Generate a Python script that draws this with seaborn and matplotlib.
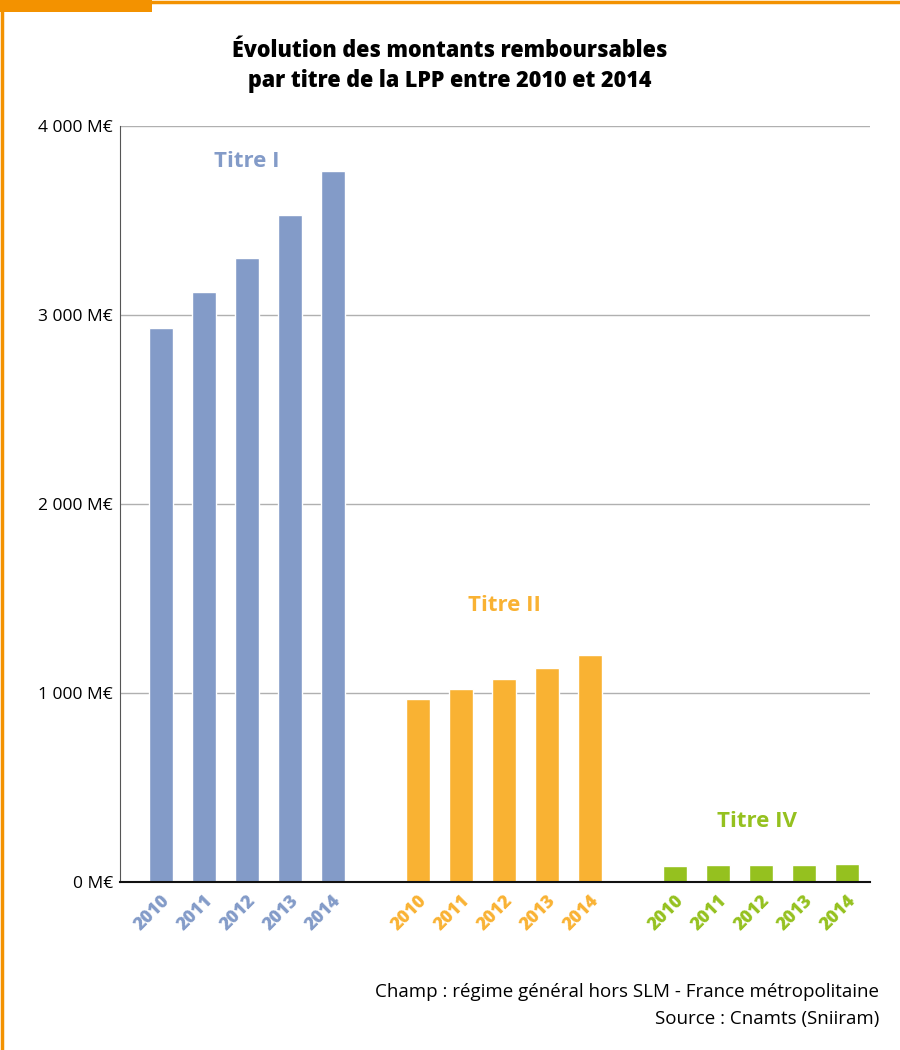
import matplotlib.pyplot as plt
import seaborn as sns
import pandas as pd
from matplotlib.patches import Rectangle
from matplotlib.lines import Line2D

# data (M€)
years    = ['2010', '2011', '2012', '2013', '2014']
titres   = ['Titre I', 'Titre II', 'Titre IV']
titre_1  = [2930, 3120, 3300, 3530, 3760]
titre_2  = [968, 1020, 1073, 1132, 1200]
titre_4  = [85, 90, 90, 90, 95]
colors   = ['#839bc8', '#f9b233', '#95c11f']
y_ticks  = [0, 1000, 2000, 3000, 4000]
y_labels = ['0 M€', '1 000 M€', '2 000 M€', '3 000 M€', '4 000 M€']

sns.set_style('white')
plt.rcParams['font.family'] = ['Open Sans', 'DejaVu Sans']
plt.rcParams['text.color'] = 'black'

rows = []
for g, vals in enumerate([titre_1, titre_2, titre_4]):
    for i, (yr, v) in enumerate(zip(years, vals)):
        rows.append({'pos': g * 6 + i, 'year': yr, 'titre': titres[g], 'value': v})
df = pd.DataFrame(rows)

fig = plt.figure(figsize=(9, 10.5), dpi=100)
ax = fig.add_axes([120/900, 1 - 882/1050, 750/900, 756/1050])

sns.barplot(data=df, x='pos', y='value', hue='titre', palette=colors,
            native_scale=True, dodge=False, width=0.56, legend=False,
            saturation=1, ax=ax)

ax.set_xlim(-0.96, 16.54)
ax.set_ylim(0, 4000)
ax.set_yticks(y_ticks)
ax.set_yticklabels(y_labels, fontsize=12.5, color='black')
ax.tick_params(axis='y', length=0, pad=5)
ax.yaxis.grid(True, color='#b0b0b0', linewidth=1)
ax.set_axisbelow(True)
ax.set_xlabel('')
ax.set_ylabel('')
for s in ['top', 'right']:
    ax.spines[s].set_visible(False)
ax.spines['left'].set_color('#555555')
ax.spines['bottom'].set_color('#111111')
ax.spines['bottom'].set_linewidth(1.5)

ax.set_xticks(df['pos'])
ax.set_xticklabels(df['year'], rotation=45, ha='right', rotation_mode='anchor',
                   fontsize=13, fontweight=800)
for lab, t in zip(ax.get_xticklabels(), df['titre']):
    lab.set_color(colors[titres.index(t)])
ax.tick_params(axis='x', length=0, pad=7)

# group labels
ax.text(2, 3810, 'Titre I', color=colors[0], fontsize=16, fontweight='bold', ha='center', va='center')
ax.text(8, 1465, 'Titre II', color=colors[1], fontsize=16, fontweight='bold', ha='center', va='center')
ax.text(13.9, 320, 'Titre IV', color=colors[2], fontsize=16, fontweight='bold', ha='center', va='center')

fig.text(0.5, 1 - 66/1050, 'Évolution des montants remboursables\npar titre de la LPP entre 2010 et 2014',
         ha='center', va='center', fontsize=15.5, fontweight=800, linespacing=1.3)

fig.text(879/900, 1 - 992/1050, 'Champ : régime général hors SLM - France métropolitaine',
         ha='right', va='center', fontsize=13.5)
fig.text(879/900, 1 - 1019/1050, 'Source : Cnamts (Sniiram)',
         ha='right', va='center', fontsize=13.5)

# orange frame
orange = '#f39200'
fig.add_artist(Rectangle((0, 1 - 12/1050), 152/900, 12/1050, transform=fig.transFigure,
                         color=orange, lw=0))
fig.add_artist(Line2D([150/900, 1], [1 - 1.5/1050, 1 - 1.5/1050], transform=fig.transFigure,
                      color=orange, lw=2.5))
fig.add_artist(Line2D([1.5/900, 1.5/900], [0, 1], transform=fig.transFigure,
                      color=orange, lw=2.5))

fig.savefig('out.png', dpi=100)
